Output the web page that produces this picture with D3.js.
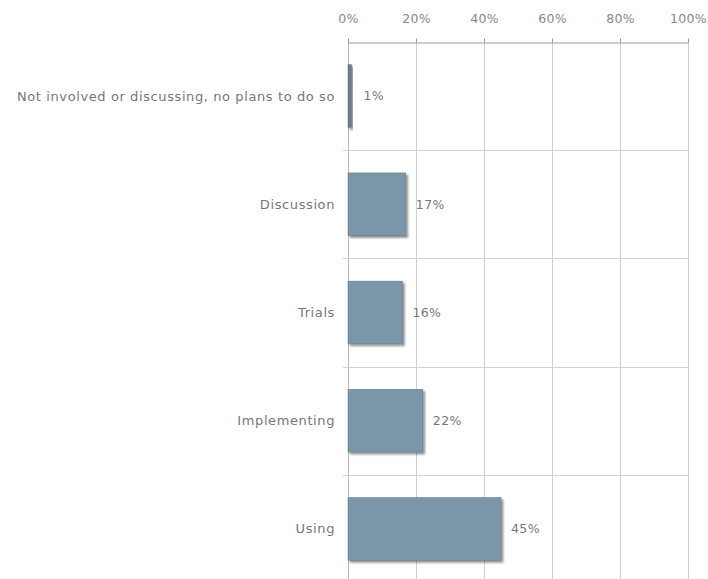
<!DOCTYPE html>
<html><head><meta charset="utf-8">
<script src="https://cdn.jsdelivr.net/npm/d3@7"></script>
<style>body{margin:0;background:#fff;}svg{display:block;}</style>
</head><body>
<script>
const categories = ["Not involved or discussing, no plans to do so","Discussion","Trials","Implementing","Using"];
const values = [1,17,16,22,45];
const tickValues = [0,20,40,60,80,100];

const W=708,H=579;
const FONT="DejaVu Sans, Verdana, sans-serif";
const svg=d3.select("body").append("svg").attr("width",W).attr("height",H);
const x=d3.scaleLinear().domain([0,100]).range([348,688]);
const y=d3.scaleBand().domain(categories).range([42,583]).paddingInner(0.42).paddingOuter(0.21);
const band=d3.scaleBand().domain(categories).range([42,583]);

const defs=svg.append("defs");
const f=defs.append("filter").attr("id","sh").attr("x","-20%").attr("y","-20%").attr("width","150%").attr("height","150%");
f.append("feDropShadow").attr("dx",2).attr("dy",2).attr("stdDeviation",1.2).attr("flood-color","#000").attr("flood-opacity",0.45);

// vertical grid
svg.append("g").selectAll("line").data(tickValues).join("line")
 .attr("x1",d=>x(d)+0.5).attr("x2",d=>x(d)+0.5).attr("y1",42).attr("y2",H)
 .attr("stroke",d=>d===0?"#bbb":"#d0d0d0").attr("stroke-width",1);
// horizontal separators
svg.append("g").selectAll("line").data(categories.slice(1)).join("line")
 .attr("x1",343).attr("x2",688).attr("y1",d=>Math.round(band(d))+0.5).attr("y2",d=>Math.round(band(d))+0.5)
 .attr("stroke","#d0d0d0");

// top axis
const ax=svg.append("g").attr("transform","translate(0,42.5)")
 .call(d3.axisTop(x).tickValues(tickValues).tickFormat(d=>d+"%").tickSize(4).tickSizeOuter(0));
ax.select(".domain").attr("stroke","#999");
ax.selectAll(".tick line").attr("stroke","#999");
ax.selectAll("text").attr("fill","#888").attr("font-family",FONT).attr("font-size",12.5).attr("letter-spacing","0.3px")
 .attr("y",-20).attr("dy","0");

// bars
svg.append("g").selectAll("rect").data(values).join("rect")
 .attr("x",x(0)).attr("y",(d,i)=>y(categories[i]))
 .attr("width",d=>Math.max(x(d)-x(0),2)).attr("height",y.bandwidth())
 .attr("fill",(d,i)=>d<2?"#6e7c86":"#7a96a8").attr("stroke","#5f7584").attr("stroke-width",0.5)
 .attr("filter","url(#sh)");

// value labels
svg.append("g").selectAll("text").data(values).join("text")
 .attr("x",d=>x(d)+(d<2?12:10)).attr("y",(d,i)=>y(categories[i])+y.bandwidth()/2)
 .attr("dy","0.35em").attr("fill","#777").attr("font-family",FONT).attr("font-size",12.5).attr("letter-spacing","0.4px")
 .text(d=>d+"%");

// category labels
svg.append("g").selectAll("text").data(categories).join("text")
 .attr("x",335).attr("y",d=>y(d)+y.bandwidth()/2).attr("dy","0.35em").attr("text-anchor","end")
 .attr("fill","#777").attr("font-family",FONT).attr("font-size",13).attr("letter-spacing","0.6px")
 .text(d=>d);
</script>
</body></html>
